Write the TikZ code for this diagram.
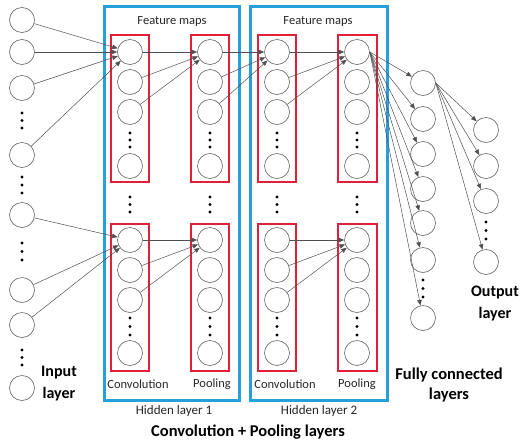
\documentclass[tikz,border=0pt]{standalone}
\usepackage{fontspec}
\setmainfont{Carlito}
\usetikzlibrary{arrows.meta}
\definecolor{bbox}{RGB}{38,160,218}
\definecolor{rbox}{RGB}{226,30,56}
\definecolor{cgray}{RGB}{100,100,100}
\definecolor{lgray}{RGB}{80,80,80}
\begin{document}
\begin{tikzpicture}[x=1pt,y=-1pt,
  neuron/.style={circle,draw=cgray,line width=0.6pt,minimum size=25pt,inner sep=0pt},
  conn/.style={draw=lgray,line width=0.5pt,-{Triangle[length=5.5pt,width=4.5pt]}},
  bluebox/.style={draw=bbox,line width=3pt},
  redbox/.style={draw=rbox,line width=1.1pt},
  smalltxt/.style={font=\fontsize{12.5}{14}\selectfont,text=black!85},
  hidtxt/.style={font=\fontsize{13}{15}\selectfont,text=black!85},
  bigtxt/.style={font=\fontsize{16.5}{22}\bfseries\selectfont,align=center}]
\useasboundingbox (0,0) rectangle (521,442);

% boxes
\draw[bluebox] (104,6) rectangle (239,400);
\draw[bluebox] (250,6) rectangle (387,400);
\draw[redbox] (111,35) rectangle (149,182);
\draw[redbox] (191,35) rectangle (229,182);
\draw[redbox] (258,35) rectangle (296,182);
\draw[redbox] (338,35) rectangle (377,182);
\draw[redbox] (111,224) rectangle (149,371);
\draw[redbox] (191,224) rectangle (229,371);
\draw[redbox] (258,224) rectangle (296,371);
\draw[redbox] (338,224) rectangle (377,371);

% input layer
\foreach \n/\y in {i1/20,i2/52,i3/88,i4/155,i5/215,i6/290,i7/325,i8/388}
  \node[neuron] (\n) at (22,\y) {};
\foreach \y in {113,120.5,128,177,185,193,243,251.5,260,350,357.5,365}
  \fill (22,\y) circle (1.6pt);

% conv / pool columns
\foreach \col/\x in {c1/130,p1/210,c2/277,p2/357}{
  \foreach \n/\y in {a/52,b/82,c/112,d/166,e/240,f/270,g/300,h/353}
    \node[neuron] (\col\n) at (\x,\y) {};
  \foreach \y in {133,140,147,197,204.5,212,318,326.5,335}
    \fill (\x,\y) circle (1.6pt);
}

% fully connected
\foreach \n/\y in {f1/83,f2/119,f3/154,f4/189,f5/223,f6/260,f7/318}
  \node[neuron] (\n) at (423,\y) {};
\foreach \y in {280,288.5,297}
  \fill (423,\y) circle (1.6pt);

% output
\foreach \n/\y in {o1/130,o2/166,o3/201,o4/262}
  \node[neuron] (\n) at (486,\y) {};
\foreach \y in {222,230.5,239}
  \fill (486,\y) circle (1.6pt);

% connections
\foreach \s in {i1,i2,i3,i4} \draw[conn] (\s) -- (c1a);
\foreach \s in {i5,i6,i7} \draw[conn] (\s) -- (c1e);
\foreach \s in {c1a,c1b,c1c} \draw[conn] (\s) -- (p1a);
\foreach \s in {c1e,c1f,c1g} \draw[conn] (\s) -- (p1e);
\foreach \s in {p1a,p1b,p1c} \draw[conn] (\s) -- (c2a);
\foreach \s in {c2a,c2b,c2c} \draw[conn] (\s) -- (p2a);
\foreach \s in {c2e,c2f,c2g} \draw[conn] (\s) -- (p2e);
\foreach \t in {f1,f2,f3,f4,f5,f6,f7} \draw[conn] (p2a.east) -- (\t);
\foreach \t in {o1,o2,o3,o4} \draw[conn] (f1.east) -- (\t);

% labels
\node[smalltxt] (fm1) at (172,21) {Feature maps};
\node[smalltxt] (fm2) at (318,21) {Feature maps};
\node[smalltxt] (cv1) at (138,384) {Convolution};
\node[smalltxt] (pl1) at (212,384) {Pooling};
\node[smalltxt] (cv2) at (285,384) {Convolution};
\node[smalltxt] (pl2) at (357,384) {Pooling};
\node[hidtxt] (h1) at (174,411) {Hidden layer 1};
\node[hidtxt] (h2) at (319,411) {Hidden layer 2};
\node[bigtxt] (cpl) at (248,432) {Convolution + Pooling layers};
\node[bigtxt,font=\fontsize{16}{22}\bfseries\selectfont] (inl) at (59,384) {Input\\layer};
\node[bigtxt,font=\fontsize{16}{22}\bfseries\selectfont] (outl) at (495,304) {Output\\layer};
\node[bigtxt,font=\fontsize{16.5}{20}\bfseries\selectfont] (fcl) at (449,385) {Fully connected\\layers};
\end{tikzpicture}
\end{document}
